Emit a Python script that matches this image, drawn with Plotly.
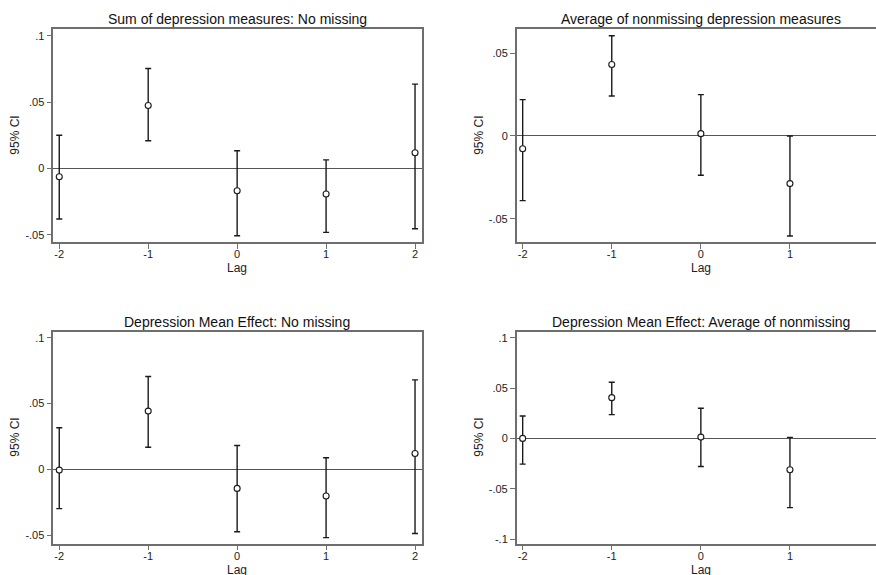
import plotly.graph_objects as go

FONT = "Liberation Sans, Arial, sans-serif"

lags_5 = [-2, -1, 0, 1, 2]
lags_4 = [-2, -1, 0, 1]

titles = [
    "Sum of depression measures: No missing",
    "Average of nonmissing depression measures",
    "Depression Mean Effect: No missing",
    "Depression Mean Effect: Average of nonmissing",
]

# panel 1
p1_est = [-0.0063, 0.0475, -0.0168, -0.0193, 0.0118]
p1_hi = [0.0251, 0.0754, 0.0133, 0.0065, 0.0636]
p1_lo = [-0.0382, 0.0209, -0.0508, -0.0482, -0.0455]
# panel 2
p2_est = [-0.0077, 0.0432, 0.0014, -0.0288]
p2_hi = [0.0220, 0.0606, 0.0250, 0.0000]
p2_lo = [-0.0391, 0.0242, -0.0238, -0.0605]
# panel 3
p3_est = [-0.0005, 0.0443, -0.0144, -0.0202, 0.0121]
p3_hi = [0.0316, 0.0706, 0.0182, 0.0089, 0.0680]
p3_lo = [-0.0298, 0.0169, -0.0473, -0.0518, -0.0486]
# panel 4
p4_est = [0.0000, 0.0405, 0.0013, -0.0312]
p4_hi = [0.0223, 0.0558, 0.0299, 0.0010]
p4_lo = [-0.0256, 0.0236, -0.0279, -0.0688]

x_ticks = [-2, -1, 0, 1, 2]
x_ticktext = ["-2", "-1", "0", "1", "2"]
y_ticks_a = [-0.05, 0, 0.05, 0.1]
y_ticktext_a = ["-.05", "0", ".05", ".1"]
y_ticks_b = [-0.05, 0, 0.05]
y_ticktext_b = ["-.05", "0", ".05"]
y_ticks_c = [-0.1, -0.05, 0, 0.05, 0.1]
y_ticktext_c = ["-.1", "-.05", "0", ".05", ".1"]

W, H = 876, 575

panels = [
    dict(x=lags_5, est=p1_est, hi=p1_hi, lo=p1_lo,
         px=(53.3, 421.7), py=(29.3, 242.0), xr=[-2.067, 2.075], yr=[-0.0555, 0.105],
         yt=y_ticks_a, ytt=y_ticktext_a, right=True),
    dict(x=lags_4, est=p2_est, hi=p2_hi, lo=p2_lo,
         px=(516.7, 876), py=(29.3, 242.3), xr=[-2.067, 1.966], yr=[-0.0643, 0.0645],
         yt=y_ticks_b, ytt=y_ticktext_b, right=False),
    dict(x=lags_5, est=p3_est, hi=p3_hi, lo=p3_lo,
         px=(53.3, 421.7), py=(331.7, 543.7), xr=[-2.067, 2.075], yr=[-0.0564, 0.1046],
         yt=y_ticks_a, ytt=y_ticktext_a, right=True),
    dict(x=lags_4, est=p4_est, hi=p4_hi, lo=p4_lo,
         px=(516.7, 876), py=(331.7, 543.7), xr=[-2.067, 1.966], yr=[-0.1046, 0.106],
         yt=y_ticks_c, ytt=y_ticktext_c, right=False),
]

fig = go.Figure()
annotations = []
frame_col = "#6e6e6e"

for i, p in enumerate(panels):
    n = i + 1
    xa = "x" if n == 1 else f"x{n}"
    ya = "y" if n == 1 else f"y{n}"
    plus = [h - e for h, e in zip(p["hi"], p["est"])]
    minus = [e - l for e, l in zip(p["est"], p["lo"])]
    fig.add_trace(go.Scatter(
        x=p["x"], y=p["est"], mode="markers", xaxis=xa, yaxis=ya,
        marker=dict(symbol="circle", size=6, color="white",
                    line=dict(color="#1a1a1a", width=1.1)),
        error_y=dict(type="data", symmetric=False, array=plus, arrayminus=minus,
                     color="#1a1a1a", thickness=1.4, width=3),
        showlegend=False, cliponaxis=False, hoverinfo="skip",
    ))
    xd = [p["px"][0] / W, min(p["px"][1] / W, 1.0)]
    yd = [1 - p["py"][1] / H, 1 - p["py"][0] / H]
    xkey = "xaxis" if n == 1 else f"xaxis{n}"
    ykey = "yaxis" if n == 1 else f"yaxis{n}"
    fig.update_layout(**{
        xkey: dict(domain=xd, range=p["xr"], anchor=ya, tickvals=x_ticks,
                   ticktext=x_ticktext, showgrid=False, zeroline=False,
                   showline=True, linecolor=frame_col, linewidth=1.5,
                   mirror=True, ticks="outside", ticklen=5, tickcolor=frame_col,
                   tickwidth=1, tickfont=dict(family=FONT, size=11, color="#222"),
                   ticklabelstandoff=-4, fixedrange=True),
        ykey: dict(domain=yd, range=p["yr"], anchor=xa, tickvals=p["yt"],
                   ticktext=p["ytt"], showgrid=False, zeroline=True,
                   zerolinecolor="#555555", zerolinewidth=1.2,
                   showline=True, linecolor=frame_col, linewidth=1.5,
                   mirror=p["right"], ticks="outside", ticklen=5,
                   tickcolor=frame_col, tickwidth=1,
                   tickfont=dict(family=FONT, size=11, color="#222"),
                   fixedrange=True),
    })
    title_cx = 237 if p["right"] else 701
    annotations.append(dict(text=titles[i], x=title_cx / W, y=1 - (p["py"][0] - 10) / H,
                            xref="paper", yref="paper", showarrow=False,
                            xanchor="center", yanchor="middle",
                            font=dict(family=FONT, size=14, color="#111")))
    lag_x = 237 if p["right"] else 701
    annotations.append(dict(text="Lag", x=lag_x / W, y=1 - (p["py"][1] + 26) / H,
                            xref="paper", yref="paper", showarrow=False,
                            xanchor="center", yanchor="middle",
                            font=dict(family=FONT, size=12, color="#222")))
    yt_x = 15 if p["right"] else 479
    annotations.append(dict(text="95% CI", x=yt_x / W,
                            y=1 - ((p["py"][0] + p["py"][1]) / 2) / H,
                            xref="paper", yref="paper", showarrow=False,
                            xanchor="center", yanchor="middle", textangle=-90,
                            font=dict(family=FONT, size=12, color="#222")))

fig.update_layout(
    width=W, height=H, margin=dict(l=0, r=0, t=0, b=0),
    paper_bgcolor="white", plot_bgcolor="white",
    annotations=annotations, showlegend=False, hovermode=False,
)

fig.write_html(
    "out.html",
    config={"displayModeBar": False},
    post_script="document.body.style.margin='0';document.body.style.overflow='hidden';",
)
